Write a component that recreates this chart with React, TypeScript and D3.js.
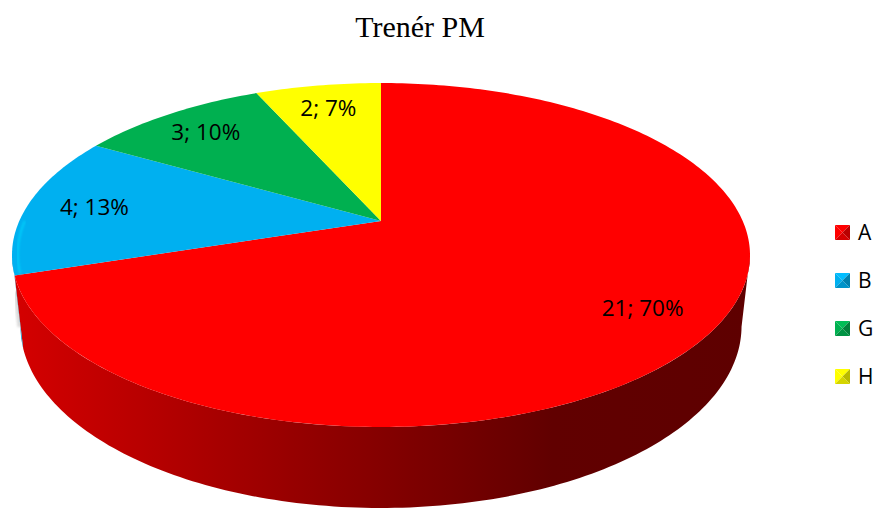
import React, { useEffect, useRef } from 'react';
import * as d3 from 'd3';

// data
const categories = ['A', 'B', 'G', 'H'];
const counts = [21, 4, 3, 2];
const sliceColours = ['#ff0000', '#00b0f0', '#00b050', '#ffff00'];
const chartTitle = 'Trenér PM';

const W = 878;
const H = 509;

// perspective camera for the 3D disc (fitted to the reference)
const cx = 381;
const cy = 221;
const focal = 1627;
const dist = 4.498;
const sinT = 0.4569;
const cosT = 0.8895;
const depth = 0.222;

const project = (theta: number, r: number, z: number): [number, number] => {
    const X = r * Math.sin(theta);
    const Y = r * Math.cos(theta);
    const yc = Y * sinT + z * cosT;
    const zc = dist + Y * cosT - z * sinT;
    return [cx + focal * X / zc, cy - focal * yc / zc];
};

const arcPoints = (a0: number, a1: number, r: number, z: number) => {
    const n = Math.max(2, Math.ceil(Math.abs(a1 - a0) / (Math.PI / 180)));
    return d3.range(n + 1).map((i) => project(a0 + (a1 - a0) * i / n, r, z));
};

const App = () => {
    const ref = useRef<SVGSVGElement>(null);

    useEffect(() => {
        const svg = d3.select(ref.current);
        svg.selectAll('*').remove();

        const total = d3.sum(counts);
        const pie = d3.pie<number>().sort(null).value((d) => d)(counts);
        const line = d3.line();

        const defs = svg.append('defs');
        defs.append('filter').attr('id', 'soft')
            .append('feGaussianBlur').attr('stdDeviation', 1.2);

        // side gradients, light at the left, dark toward the right
        sliceColours.forEach((c, i) => {
            const g = defs.append('linearGradient')
                .attr('id', `side${i}`)
                .attr('gradientUnits', 'userSpaceOnUse')
                .attr('x1', 12).attr('x2', 752).attr('y1', 0).attr('y2', 0);
            [[0, 0.5], [0.39, 1.5], [0.73, 2.7], [1, 2.8]].forEach(([o, k]) => {
                g.append('stop').attr('offset', o).attr('stop-color', d3.color(c)!.darker(k).formatHex());
            });
        });

        // silhouette of the cylinder wall
        const sil0 = Math.acos(-cosT / dist);
        const sil1 = 2 * Math.PI - sil0;

        // faint shadow at the left
        svg.append('path')
            .attr('d', line(arcPoints(sil1 - 0.05, sil1, 1.0, -depth * 0.5).concat([project(sil1, 1, -depth)]))!)
            .attr('fill', 'none')
            .attr('stroke', '#999')
            .attr('stroke-width', 6)
            .attr('opacity', 0.35)
            .attr('filter', 'url(#soft)');

        // sides
        pie.forEach((p, i) => {
            const a = Math.max(p.startAngle, sil0);
            const b = Math.min(p.endAngle, sil1);
            if (b <= a) return;
            const pts = arcPoints(a, b, 1, 0).concat(arcPoints(b, a, 1, -depth));
            svg.append('path')
                .attr('d', line(pts) + 'Z')
                .attr('fill', `url(#side${i})`);
        });

        // tops
        pie.forEach((p, i) => {
            const pts = [project(0, 0, 0)].concat(arcPoints(p.startAngle, p.endAngle, 1, 0));
            svg.append('path')
                .attr('d', line(pts) + 'Z')
                .attr('fill', sliceColours[i]);
        });

        // bevel highlight along the front rim
        pie.forEach((p, i) => {
            const a = Math.max(p.startAngle, sil0 - 0.4);
            const b = Math.min(p.endAngle, sil1 + 0.2);
            if (b <= a) return;
            svg.append('path')
                .attr('d', line(arcPoints(a, b, 0.985, 0))!)
                .attr('fill', 'none')
                .attr('stroke', d3.color(sliceColours[i])!.brighter(0.6).formatHex())
                .attr('stroke-width', 2)
                .attr('opacity', 0.7)
                .attr('filter', 'url(#soft)');
        });

        // data labels
        pie.forEach((p, i) => {
            const mid = (p.startAngle + p.endAngle) / 2;
            const [lx, ly] = project(mid, 0.81, 0);
            svg.append('text')
                .attr('x', lx)
                .attr('y', ly + 8)
                .attr('text-anchor', 'middle')
                .attr('font-family', '"Open Sans", sans-serif')
                .attr('font-size', 22.5)
                .attr('fill', '#000')
                .text(`${counts[i]}; ${Math.round(counts[i] / total * 100)}%`);
        });

        // title
        svg.append('text')
            .attr('x', 420)
            .attr('y', 37)
            .attr('text-anchor', 'middle')
            .attr('font-family', '"Liberation Serif", "Times New Roman", serif')
            .attr('font-size', 30)
            .text(chartTitle);

        // legend
        const yLeg = d3.scalePoint<string>().domain(categories).range([225, 369]);
        const s = 15;
        categories.forEach((c, i) => {
            const g = svg.append('g').attr('transform', `translate(835, ${yLeg(c)})`);
            const base = d3.color(sliceColours[i])!;
            const tri = [
                { pts: [[0, 0], [s, 0], [s / 2, s / 2]], col: base.brighter(0.2) },
                { pts: [[0, 0], [0, s], [s / 2, s / 2]], col: base },
                { pts: [[s, 0], [s, s], [s / 2, s / 2]], col: base.darker(0.9) },
                { pts: [[0, s], [s, s], [s / 2, s / 2]], col: base.darker(0.5) },
            ];
            tri.forEach((t) => {
                g.append('path')
                    .attr('d', line(t.pts as [number, number][]) + 'Z')
                    .attr('fill', t.col.formatHex());
            });
            g.append('text')
                .attr('x', 23)
                .attr('y', s)
                .attr('font-family', '"Open Sans", sans-serif')
                .attr('font-size', 21)
                .attr('fill', '#000')
                .text(c);
        });
    }, []);

    return (
        <svg ref={ref} width={W} height={H}
             style={{ position: 'absolute', left: 0, top: 0, background: '#fff' }} />
    );
};

export default App;
